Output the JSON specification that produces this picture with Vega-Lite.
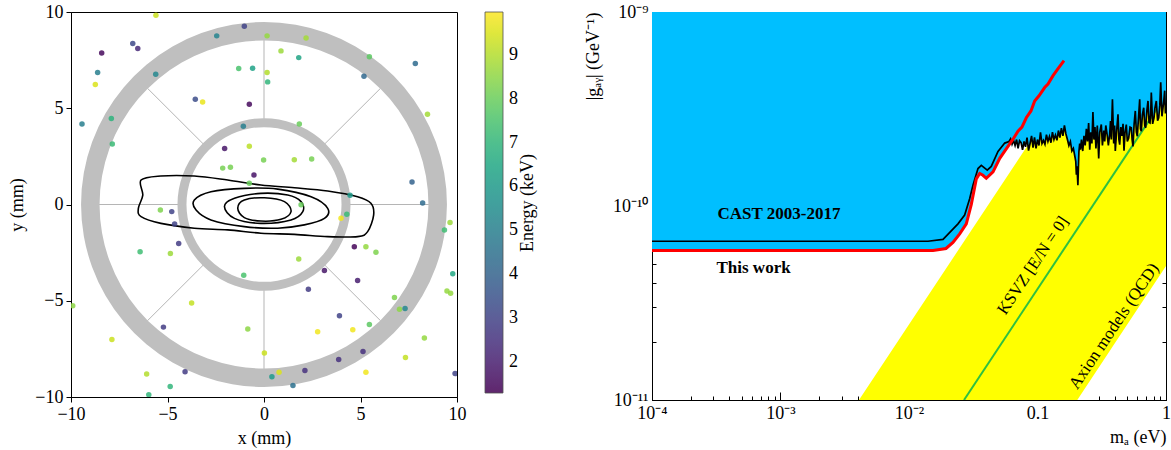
{
  "$schema": "https://vega.github.io/schema/vega-lite/v6.json",
  "padding": {"left": 8, "top": -7, "right": 0, "bottom": 0},
  "spacing": 45,
  "resolve": {"scale": {"color": "independent"}, "legend": {"color": "independent"}},
  "config": {
    "font": "Liberation Serif",
    "view": {"stroke": "black", "strokeWidth": 1},
    "axis": {"grid": false, "labelFont": "Liberation Serif", "labelFontSize": 18, "titleFont": "Liberation Serif", "titleFontSize": 18, "titleFontWeight": "normal", "labelColor": "black", "titleColor": "black", "domainColor": "black", "tickColor": "black", "labelFlush": false},
    "legend": {"labelFont": "Liberation Serif", "titleFont": "Liberation Serif"}
  },
  "datasets": {
    "points": [
      {"x":-5.60,"y":9.83,"E":9.3},{"x":-1.02,"y":9.26,"E":3.0},{"x":-6.80,"y":8.36,"E":3.2},{"x":-6.54,"y":8.10,"E":2.3},
      {"x":-8.41,"y":7.87,"E":1.5},{"x":-2.45,"y":8.76,"E":5.2},{"x":0.16,"y":8.76,"E":8.6},{"x":0.88,"y":7.98,"E":8.7},
      {"x":1.80,"y":7.63,"E":6.4},{"x":-8.62,"y":6.86,"E":5.0},{"x":-8.74,"y":6.23,"E":9.5},{"x":-5.61,"y":6.77,"E":5.3},
      {"x":-1.31,"y":7.06,"E":7.5},{"x":-0.59,"y":7.08,"E":6.3},{"x":0.16,"y":6.86,"E":9.0},{"x":0.19,"y":6.37,"E":7.0},
      {"x":-9.43,"y":4.18,"E":5.0},{"x":-7.91,"y":4.47,"E":6.9},{"x":-7.86,"y":3.14,"E":7.2},{"x":-3.56,"y":5.47,"E":3.3},
      {"x":-3.18,"y":5.33,"E":9.7},{"x":-0.76,"y":5.21,"E":1.5},{"x":-1.07,"y":4.07,"E":5.0},{"x":1.83,"y":4.18,"E":8.0},
      {"x":-2.04,"y":2.91,"E":1.8},{"x":-0.76,"y":3.03,"E":9.1},{"x":-0.02,"y":2.31,"E":8.2},{"x":1.57,"y":2.32,"E":8.8},
      {"x":-2.14,"y":1.89,"E":8.2},{"x":-1.74,"y":1.93,"E":8.2},{"x":-0.52,"y":1.53,"E":1.7},{"x":-0.76,"y":1.10,"E":8.0},
      {"x":-5.37,"y":-0.28,"E":8.3},{"x":-4.78,"y":-0.37,"E":3.0},{"x":1.92,"y":-0.01,"E":8.0},{"x":2.18,"y":8.65,"E":8.8},
      {"x":5.46,"y":7.67,"E":7.8},{"x":7.84,"y":7.32,"E":4.3},{"x":5.18,"y":6.66,"E":4.2},{"x":8.47,"y":4.69,"E":8.8},
      {"x":2.47,"y":2.36,"E":8.2},{"x":7.67,"y":1.17,"E":4.0},{"x":8.22,"y":0.08,"E":4.3},{"x":4.46,"y":0.48,"E":6.0},
      {"x":4.29,"y":-0.51,"E":7.2},{"x":3.99,"y":-0.72,"E":9.8},{"x":-4.63,"y":-1.01,"E":3.0},{"x":-4.42,"y":-2.03,"E":2.8},
      {"x":-6.42,"y":-2.46,"E":7.3},{"x":-4.85,"y":-2.55,"E":8.7},{"x":1.80,"y":-2.83,"E":8.7},{"x":-1.05,"y":-3.67,"E":7.5},
      {"x":-9.91,"y":-5.26,"E":8.5},{"x":-3.75,"y":-5.12,"E":9.2},{"x":-5.21,"y":-6.37,"E":2.8},{"x":-0.84,"y":-6.47,"E":8.5},
      {"x":-7.88,"y":-7.01,"E":9.3},{"x":0.02,"y":-7.72,"E":9.3},{"x":-6.08,"y":-8.81,"E":9.0},{"x":-4.09,"y":-8.69,"E":2.8},
      {"x":0.41,"y":-8.95,"E":6.0},{"x":0.78,"y":-8.72,"E":9.5},{"x":-4.86,"y":-9.45,"E":7.0},{"x":-5.97,"y":-9.88,"E":7.0},
      {"x":1.50,"y":-9.40,"E":4.5},{"x":4.68,"y":-2.19,"E":1.4},{"x":5.28,"y":-2.19,"E":8.6},{"x":5.80,"y":-2.48,"E":8.3},
      {"x":3.13,"y":-3.43,"E":1.8},{"x":4.85,"y":-3.95,"E":2.0},{"x":2.30,"y":-4.40,"E":2.8},{"x":6.76,"y":-4.83,"E":8.3},
      {"x":7.02,"y":-5.44,"E":8.5},{"x":7.31,"y":-5.40,"E":5.3},{"x":3.91,"y":-5.78,"E":3.0},{"x":5.46,"y":-6.23,"E":7.8},
      {"x":2.78,"y":-6.61,"E":9.8},{"x":4.60,"y":-6.51,"E":9.8},{"x":8.31,"y":-6.94,"E":8.6},{"x":7.33,"y":-7.95,"E":9.2},
      {"x":5.13,"y":-7.64,"E":2.5},{"x":3.87,"y":-8.05,"E":2.5},{"x":2.12,"y":-8.62,"E":2.5},{"x":5.28,"y":-8.72,"E":9.8},
      {"x":9.90,"y":-8.78,"E":3.0},{"x":9.35,"y":-1.32,"E":7.3},{"x":9.64,"y":-0.94,"E":8.7},{"x":9.78,"y":-3.60,"E":6.5},
      {"x":9.48,"y":-4.49,"E":8.6},{"x":9.67,"y":-4.61,"E":8.6}
    ],
    "spokes": [
      {"x":4.45,"y":0,"x2":8.55,"y2":0},{"x":3.147,"y":3.147,"x2":6.046,"y2":6.046},
      {"x":0,"y":4.45,"x2":0,"y2":8.55},{"x":-3.147,"y":3.147,"x2":-6.046,"y2":6.046},
      {"x":-4.45,"y":0,"x2":-8.55,"y2":0},{"x":-3.147,"y":-3.147,"x2":-6.046,"y2":-6.046},
      {"x":0,"y":-4.45,"x2":0,"y2":-8.55},{"x":3.147,"y":-3.147,"x2":6.046,"y2":-6.046}
    ],
    "outer": [
      {"x":9,"y":0},{"x":8.863,"y":1.563},{"x":8.457,"y":3.078},{"x":7.794,"y":4.5},{"x":6.894,"y":5.785},{"x":5.785,"y":6.894},
      {"x":4.5,"y":7.794},{"x":3.078,"y":8.457},{"x":1.563,"y":8.863},{"x":0,"y":9},{"x":-1.563,"y":8.863},{"x":-3.078,"y":8.457},
      {"x":-4.5,"y":7.794},{"x":-5.785,"y":6.894},{"x":-6.894,"y":5.785},{"x":-7.794,"y":4.5},{"x":-8.457,"y":3.078},{"x":-8.863,"y":1.563},
      {"x":-9,"y":0},{"x":-8.863,"y":-1.563},{"x":-8.457,"y":-3.078},{"x":-7.794,"y":-4.5},{"x":-6.894,"y":-5.785},{"x":-5.785,"y":-6.894},
      {"x":-4.5,"y":-7.794},{"x":-3.078,"y":-8.457},{"x":-1.563,"y":-8.863},{"x":0,"y":-9},{"x":1.563,"y":-8.863},{"x":3.078,"y":-8.457},
      {"x":4.5,"y":-7.794},{"x":5.785,"y":-6.894},{"x":6.894,"y":-5.785},{"x":7.794,"y":-4.5},{"x":8.457,"y":-3.078},{"x":8.863,"y":-1.563}
    ],
    "inner": [
      {"x":4.25,"y":0},{"x":4.185,"y":0.738},{"x":3.994,"y":1.454},{"x":3.681,"y":2.125},{"x":3.256,"y":2.732},{"x":2.732,"y":3.256},
      {"x":2.125,"y":3.681},{"x":1.454,"y":3.994},{"x":0.738,"y":4.185},{"x":0,"y":4.25},{"x":-0.738,"y":4.185},{"x":-1.454,"y":3.994},
      {"x":-2.125,"y":3.681},{"x":-2.732,"y":3.256},{"x":-3.256,"y":2.732},{"x":-3.681,"y":2.125},{"x":-3.994,"y":1.454},{"x":-4.185,"y":0.738},
      {"x":-4.25,"y":0},{"x":-4.185,"y":-0.738},{"x":-3.994,"y":-1.454},{"x":-3.681,"y":-2.125},{"x":-3.256,"y":-2.732},{"x":-2.732,"y":-3.256},
      {"x":-2.125,"y":-3.681},{"x":-1.454,"y":-3.994},{"x":-0.738,"y":-4.185},{"x":0,"y":-4.25},{"x":0.738,"y":-4.185},{"x":1.454,"y":-3.994},
      {"x":2.125,"y":-3.681},{"x":2.732,"y":-3.256},{"x":3.256,"y":-2.732},{"x":3.681,"y":-2.125},{"x":3.994,"y":-1.454},{"x":4.185,"y":-0.738}
    ],
    "contours": [
      {"c":1,"x":-6.37,"y":1.27},{"c":1,"x":-5.35,"y":1.48},{"c":1,"x":-3.61,"y":1.48},{"c":1,"x":-1.88,"y":1.27},{"c":1,"x":-0.16,"y":1.01},
      {"c":1,"x":1.58,"y":0.87},{"c":1,"x":3.30,"y":0.70},{"c":1,"x":4.85,"y":0.40},{"c":1,"x":5.54,"y":0.06},{"c":1,"x":5.68,"y":-0.55},
      {"c":1,"x":5.37,"y":-1.41},{"c":1,"x":4.85,"y":-1.67},{"c":1,"x":3.30,"y":-1.67},{"c":1,"x":1.58,"y":-1.55},{"c":1,"x":-0.16,"y":-1.49},
      {"c":1,"x":-1.88,"y":-1.32},{"c":1,"x":-3.61,"y":-1.23},{"c":1,"x":-5.34,"y":-0.98},{"c":1,"x":-6.37,"y":-0.63},{"c":1,"x":-6.51,"y":-0.20},
      {"c":1,"x":-6.28,"y":0.49},
      {"c":2,"x":-3.61,"y":0.23},{"c":2,"x":-2.75,"y":0.66},{"c":2,"x":-1.02,"y":0.84},{"c":2,"x":0.71,"y":0.80},{"c":2,"x":2.44,"y":0.40},
      {"c":2,"x":3.30,"y":-0.20},{"c":2,"x":3.13,"y":-0.72},{"c":2,"x":2.09,"y":-1.06},{"c":2,"x":0.71,"y":-1.23},{"c":2,"x":-1.02,"y":-1.15},
      {"c":2,"x":-2.75,"y":-0.80},{"c":2,"x":-3.52,"y":-0.29},
      {"c":3,"x":-2.05,"y":-0.11},{"c":3,"x":-1.53,"y":0.32},{"c":3,"x":-0.16,"y":0.58},{"c":3,"x":1.23,"y":0.49},{"c":3,"x":1.92,"y":0.15},
      {"c":3,"x":2.01,"y":-0.37},{"c":3,"x":1.40,"y":-0.80},{"c":3,"x":-0.16,"y":-0.98},{"c":3,"x":-1.53,"y":-0.72},
      {"c":4,"x":-1.36,"y":-0.20},{"c":4,"x":-1.02,"y":0.23},{"c":4,"x":0.02,"y":0.35},{"c":4,"x":1.06,"y":0.15},{"c":4,"x":1.40,"y":-0.37},
      {"c":4,"x":0.88,"y":-0.77},{"c":4,"x":-0.16,"y":-0.86},{"c":4,"x":-1.02,"y":-0.68}
    ],
    "yellow": [
      {"m":0.00408,"g":1e-11,"g2":1e-11},{"m":0.204,"g":1e-11,"g2":5.0e-10},{"m":0.408,"g":2.0e-11,"g2":1e-9},{"m":1,"g":4.9e-11,"g2":1e-9}
    ],
    "ksvz": [{"m":0.0268,"g":1e-11},{"m":1,"g":3.73e-10}],
    "red": [
      {"m":0.0001,"g":5.90e-11},{"m":0.01538,"g":5.90e-11},{"m":0.0194,"g":6.04e-11},{"m":0.02199,"g":6.49e-11},{"m":0.0248,"g":7.18e-11},
      {"m":0.02792,"g":8.09e-11},{"m":0.03054,"g":1.02e-10},{"m":0.0334,"g":1.38e-10},{"m":0.03548,"g":1.47e-10},{"m":0.03764,"g":1.44e-10},
      {"m":0.03995,"g":1.39e-10},{"m":0.04508,"g":1.50e-10},{"m":0.05083,"g":1.76e-10},{"m":0.05892,"g":2.03e-10},{"m":0.06448,"g":2.21e-10},
      {"m":0.07047,"g":2.43e-10},{"m":0.07568,"g":2.55e-10},{"m":0.08181,"g":2.85e-10},{"m":0.08893,"g":3.09e-10},{"m":0.09505,"g":3.48e-10},
      {"m":0.1027,"g":3.70e-10},{"m":0.1137,"g":4.08e-10},{"m":0.1207,"g":4.25e-10},{"m":0.1321,"g":4.70e-10},{"m":0.1445,"g":5.11e-10},
      {"m":0.1607,"g":5.62e-10}
    ],
    "cast": [
      {"m":0.0001,"g":6.58e-11},{"m":0.01406,"g":6.58e-11},{"m":0.0184,"g":6.73e-11},{"m":0.02086,"g":7.33e-11},{"m":0.02405,"g":8.09e-11},
      {"m":0.0271,"g":8.98e-11},{"m":0.02965,"g":1.09e-10},{"m":0.03147,"g":1.28e-10},{"m":0.03443,"g":1.56e-10},{"m":0.03653,"g":1.62e-10},
      {"m":0.04066,"g":1.53e-10},{"m":0.04366,"g":1.60e-10},{"m":0.04928,"g":1.91e-10},{"m":0.05559,"g":2.11e-10},
      {"m":0.0600,"g":2.15e-10},{"m":0.0617,"g":2.22e-10},{"m":0.0634,"g":2.08e-10},{"m":0.0651,"g":2.18e-10},{"m":0.0669,"g":2.05e-10},
      {"m":0.0687,"g":2.20e-10},{"m":0.0706,"g":1.98e-10},{"m":0.0725,"g":2.17e-10},{"m":0.0745,"g":2.12e-10},{"m":0.0765,"g":1.95e-10},
      {"m":0.0786,"g":2.15e-10},{"m":0.0807,"g":2.02e-10},{"m":0.0829,"g":2.25e-10},{"m":0.0852,"g":1.93e-10},{"m":0.0875,"g":2.10e-10},
      {"m":0.0899,"g":2.30e-10},{"m":0.0923,"g":2.00e-10},{"m":0.0948,"g":2.26e-10},{"m":0.0974,"g":1.98e-10},{"m":0.1000,"g":2.20e-10},
      {"m":0.1027,"g":2.05e-10},{"m":0.1055,"g":2.40e-10},{"m":0.1084,"g":2.10e-10},{"m":0.1113,"g":2.18e-10},{"m":0.1143,"g":2.08e-10},
      {"m":0.1174,"g":2.33e-10},{"m":0.1206,"g":2.15e-10},{"m":0.1239,"g":2.28e-10},{"m":0.1273,"g":2.12e-10},{"m":0.1307,"g":2.40e-10},
      {"m":0.1343,"g":2.20e-10},{"m":0.1379,"g":2.32e-10},{"m":0.1417,"g":2.18e-10},{"m":0.1455,"g":2.45e-10},{"m":0.1494,"g":2.25e-10},
      {"m":0.1535,"g":2.52e-10},{"m":0.1577,"g":2.30e-10},{"m":0.1620,"g":2.60e-10},{"m":0.1664,"g":2.35e-10},{"m":0.1709,"g":2.20e-10},
      {"m":0.1755,"g":2.05e-10},{"m":0.1803,"g":2.15e-10},{"m":0.1852,"g":1.92e-10},{"m":0.1902,"g":1.98e-10},{"m":0.1954,"g":1.80e-10},
      {"m":0.1985,"g":1.70e-10},{"m":0.2007,"g":1.45e-10},{"m":0.2030,"g":1.60e-10},{"m":0.2062,"g":1.28e-10},{"m":0.2080,"g":1.55e-10},
      {"m":0.2100,"g":1.90e-10},{"m":0.2130,"g":2.10e-10},{"m":0.2160,"g":1.95e-10},{"m":0.2200,"g":2.20e-10},{"m":0.2250,"g":1.92e-10},
      {"m":0.2300,"g":2.30e-10},{"m":0.2350,"g":2.05e-10},{"m":0.2400,"g":2.50e-10},{"m":0.2450,"g":2.15e-10},{"m":0.2500,"g":2.68e-10},
      {"m":0.2550,"g":1.95e-10},{"m":0.2600,"g":2.40e-10},{"m":0.2650,"g":2.10e-10},{"m":0.2700,"g":3.05e-10},{"m":0.2750,"g":2.20e-10},
      {"m":0.2800,"g":2.55e-10},{"m":0.2850,"g":1.98e-10},{"m":0.2920,"g":2.60e-10},{"m":0.2995,"g":1.76e-10},{"m":0.3050,"g":2.40e-10},
      {"m":0.3137,"g":2.63e-10},{"m":0.3200,"g":2.05e-10},{"m":0.3280,"g":2.45e-10},{"m":0.3334,"g":2.15e-10},{"m":0.3400,"g":2.60e-10},
      {"m":0.3493,"g":2.30e-10},{"m":0.3560,"g":2.05e-10},{"m":0.3646,"g":2.35e-10},{"m":0.3700,"g":2.74e-10},{"m":0.3752,"g":2.20e-10},
      {"m":0.3830,"g":3.55e-10},{"m":0.3917,"g":2.10e-10},{"m":0.3980,"g":2.60e-10},{"m":0.4031,"g":1.92e-10},{"m":0.4130,"g":2.45e-10},
      {"m":0.4231,"g":2.97e-10},{"m":0.4300,"g":2.20e-10},{"m":0.4362,"g":2.07e-10},{"m":0.4450,"g":2.55e-10},{"m":0.4546,"g":2.30e-10},
      {"m":0.4630,"g":2.65e-10},{"m":0.4712,"g":1.93e-10},{"m":0.4800,"g":2.40e-10},{"m":0.4910,"g":2.63e-10},{"m":0.5000,"g":2.15e-10},
      {"m":0.5125,"g":2.24e-10},{"m":0.5250,"g":2.55e-10},{"m":0.5370,"g":2.53e-10},{"m":0.5450,"g":2.20e-10},{"m":0.5536,"g":2.03e-10},
      {"m":0.5650,"g":2.65e-10},{"m":0.5769,"g":3.09e-10},{"m":0.5880,"g":2.40e-10},{"m":0.5980,"g":2.29e-10},{"m":0.6100,"g":2.80e-10},
      {"m":0.6242,"g":3.55e-10},{"m":0.6330,"g":2.50e-10},{"m":0.6424,"g":2.43e-10},{"m":0.6550,"g":2.95e-10},{"m":0.6706,"g":3.21e-10},
      {"m":0.6830,"g":2.60e-10},{"m":0.6950,"g":2.53e-10},{"m":0.7100,"g":3.10e-10},{"m":0.7243,"g":3.48e-10},{"m":0.7380,"g":2.70e-10},
      {"m":0.7508,"g":2.68e-10},{"m":0.7600,"g":3.00e-10},{"m":0.7685,"g":3.85e-10},{"m":0.7870,"g":2.65e-10},{"m":0.8065,"g":2.85e-10},
      {"m":0.8200,"g":3.20e-10},{"m":0.8405,"g":3.48e-10},{"m":0.8600,"g":2.75e-10},{"m":0.8774,"g":2.85e-10},{"m":0.8950,"g":3.30e-10},
      {"m":0.9095,"g":4.34e-10},{"m":0.9300,"g":2.90e-10},{"m":0.9478,"g":3.21e-10},{"m":0.9620,"g":3.50e-10},{"m":0.9770,"g":3.93e-10},
      {"m":0.9900,"g":3.00e-10},{"m":1.0,"g":3.30e-10}
    ]
  },
  "hconcat": [
    {
      "width": 386,
      "height": 385,
      "encoding": {
        "x": {"field": "x", "type": "quantitative", "scale": {"domain": [-10, 10], "nice": false, "zero": false},
              "axis": {"title": "x (mm)", "values": [-10, -5, 0, 5, 10], "format": "d", "tickSize": 5, "labelPadding": 3, "titlePadding": 6}},
        "y": {"field": "y", "type": "quantitative", "scale": {"domain": [-10, 10], "nice": false, "zero": false},
              "axis": {"title": "y (mm)", "values": [-10, -5, 0, 5, 10], "format": "d", "tickSize": 5, "labelPadding": 3, "titlePadding": 8}}
      },
      "layer": [
        {"data": {"name": "spokes"}, "mark": {"type": "rule", "color": "#b5b5b5", "strokeWidth": 1},
         "encoding": {"x2": {"field": "x2"}, "y2": {"field": "y2"}}},
        {"data": {"name": "outer"}, "mark": {"type": "line", "color": "#bfbfbf", "strokeWidth": 18.5, "interpolate": "cardinal-closed"},
         "encoding": {"order": {"value": null}}},
        {"data": {"name": "inner"}, "mark": {"type": "line", "color": "#bfbfbf", "strokeWidth": 9, "interpolate": "cardinal-closed"},
         "encoding": {"order": {"value": null}}},
        {"data": {"name": "contours"}, "mark": {"type": "line", "color": "black", "strokeWidth": 1.6, "interpolate": "cardinal-closed"},
         "encoding": {"detail": {"field": "c"}, "order": {"value": null}}},
        {"data": {"name": "points"}, "mark": {"type": "circle", "size": 30, "opacity": 0.85, "clip": true},
         "encoding": {"color": {"field": "E", "type": "quantitative", "scale": {"scheme": "viridis", "domain": [1.29, 9.98]},
           "legend": {"title": "Energy (keV)", "values": [2, 3, 4, 5, 6, 7, 8, 9], "direction": "vertical", "gradientLength": 381, "gradientThickness": 18,
                      "offset": 28, "padding": 0, "labelFontSize": 18, "labelOffset": 6, "titleFontSize": 18, "titleFontWeight": "normal",
                      "titleOrient": "right", "titleAnchor": "middle", "titlePadding": 1,
                      "gradientStrokeColor": "#333", "gradientStrokeWidth": 0.8,
                      "encoding": {"title": {"angle": {"value": 270}, "baseline": {"value": "top"}}}}}}}
      ]
    },
    {
      "width": 514,
      "height": 388,
      "layer": [
        {
          "encoding": {
            "x": {"field": "m", "type": "quantitative", "scale": {"type": "log", "domain": [0.0001, 1], "nice": false},
                  "axis": {"title": "mₐ (eV)", "titleAnchor": "end", "titlePadding": 6,
                           "values": [0.0001,0.0002,0.0003,0.0004,0.0005,0.0006,0.0007,0.0008,0.0009,0.001,0.002,0.003,0.004,0.005,0.006,0.007,0.008,0.009,0.01,0.02,0.03,0.04,0.05,0.06,0.07,0.08,0.09,0.1,0.2,0.3,0.4,0.5,0.6,0.7,0.8,0.9,1],
                           "labelExpr": "abs(log(datum.value)/LN10 - round(log(datum.value)/LN10)) < 0.001 ? (datum.value >= 0.99 ? '1' : datum.value >= 0.099 ? '0.1' : datum.value >= 0.0099 ? '10⁻²' : datum.value >= 0.00099 ? '10⁻³' : '10⁻⁴') : ''",
                           "tickSize": -8, "labelPadding": 12, "labelOverlap": false,
                           "tickDash": {"condition": {"test": "abs(log(datum.value)/LN10 - round(log(datum.value)/LN10)) < 0.001", "value": []}, "value": [4, 20]}}},
            "y": {"field": "g", "type": "quantitative", "scale": {"type": "log", "domain": [1e-11, 1e-9], "nice": false},
                  "axis": {"title": "|gₐᵧ| (GeV⁻¹)", "titleAnchor": "end", "titlePadding": 10,
                           "values": [1e-11,2e-11,3e-11,4e-11,5e-11,6e-11,7e-11,8e-11,9e-11,1e-10,2e-10,3e-10,4e-10,5e-10,6e-10,7e-10,8e-10,9e-10,1e-9],
                           "labelExpr": "abs(log(datum.value)/LN10 - round(log(datum.value)/LN10)) < 0.001 ? (datum.value > 5e-10 ? '10⁻⁹' : datum.value > 5e-11 ? '10⁻¹⁰' : '10⁻¹¹') : ''",
                           "tickSize": -8, "labelPadding": 12, "labelOverlap": false,
                           "tickDash": {"condition": {"test": "abs(log(datum.value)/LN10 - round(log(datum.value)/LN10)) < 0.001", "value": []}, "value": [4, 20]}}}
          },
          "layer": [
            {"data": {"name": "yellow"}, "mark": {"type": "area", "color": "#ffff00", "clip": true},
             "encoding": {"y2": {"field": "g2"}}},
            {"data": {"name": "ksvz"}, "mark": {"type": "line", "color": "#2fc040", "strokeWidth": 2, "clip": true}, "encoding": {}},
            {"data": {"name": "red"}, "mark": {"type": "area", "color": "#00bfff", "clip": true},
             "encoding": {"y2": {"datum": 1e-9}}},
            {"data": {"name": "cast"}, "mark": {"type": "area", "color": "#00bfff", "clip": true},
             "encoding": {"y2": {"datum": 1e-9}}},
            {"data": {"name": "cast"}, "mark": {"type": "line", "color": "black", "strokeWidth": 1.7, "clip": true}, "encoding": {}},
            {"data": {"name": "red"}, "mark": {"type": "line", "color": "#ff0000", "strokeWidth": 3, "clip": true}, "encoding": {}},
            {"data": {"values": [{"m": 0.000973, "g": 8.59e-11, "t": "CAST 2003-2017"}, {"m": 0.000617, "g": 4.53e-11, "t": "This work"}]},
             "mark": {"type": "text", "font": "Liberation Serif", "fontSize": 17, "fontWeight": "bold", "align": "center", "baseline": "alphabetic", "color": "black"},
             "encoding": {"text": {"field": "t"}}},
            {"data": {"values": [{"m": 0.0923, "g": 4.93e-11, "t": "KSVZ [E/N = 0]"}, {"m": 0.394, "g": 2.40e-11, "t": "Axion models (QCD)"}]},
             "mark": {"type": "text", "font": "Liberation Serif", "fontSize": 17, "angle": 303.8, "align": "center", "baseline": "middle", "color": "black"},
             "encoding": {"text": {"field": "t"}}}
          ]
        },
        {
          "data": {"name": "ksvz"},
          "mark": {"type": "point", "opacity": 0},
          "encoding": {
            "x": {"field": "m", "type": "quantitative", "scale": {"type": "log", "domain": [0.0001, 1], "nice": false},
                  "axis": {"orient": "top", "title": null, "labels": false, "tickSize": -8, "labelPadding": 0, "minExtent": 0, "maxExtent": 0,
                           "values": [0.0001,0.0002,0.0003,0.0004,0.0005,0.0006,0.0007,0.0008,0.0009,0.001,0.002,0.003,0.004,0.005,0.006,0.007,0.008,0.009,0.01,0.02,0.03,0.04,0.05,0.06,0.07,0.08,0.09,0.1,0.2,0.3,0.4,0.5,0.6,0.7,0.8,0.9,1],
                           "tickDash": {"condition": {"test": "abs(log(datum.value)/LN10 - round(log(datum.value)/LN10)) < 0.001", "value": []}, "value": [4, 20]}}},
            "y": {"field": "g", "type": "quantitative", "scale": {"type": "log", "domain": [1e-11, 1e-9], "nice": false},
                  "axis": {"orient": "right", "title": null, "labels": false, "tickSize": -8, "labelPadding": 0, "minExtent": 0, "maxExtent": 0,
                           "values": [1e-11,2e-11,3e-11,4e-11,5e-11,6e-11,7e-11,8e-11,9e-11,1e-10,2e-10,3e-10,4e-10,5e-10,6e-10,7e-10,8e-10,9e-10,1e-9],
                           "tickDash": {"condition": {"test": "abs(log(datum.value)/LN10 - round(log(datum.value)/LN10)) < 0.001", "value": []}, "value": [4, 20]}}}
          }
        }
      ],
      "resolve": {"axis": {"x": "independent", "y": "independent"}}
    }
  ]
}
